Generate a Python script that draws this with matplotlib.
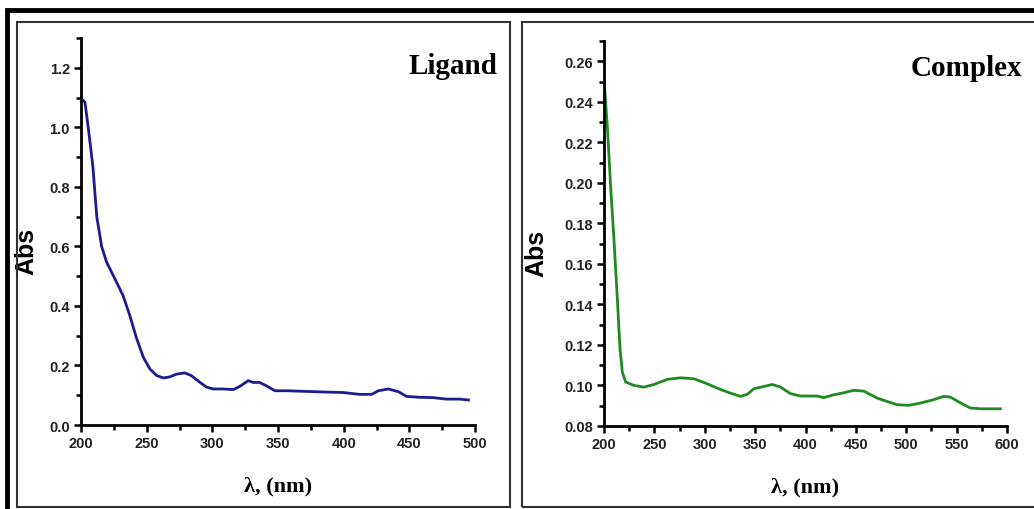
import numpy as np
import matplotlib
matplotlib.use("Agg")
import matplotlib.pyplot as plt
from matplotlib.patches import Rectangle
from matplotlib.ticker import MultipleLocator

# Ligand spectrum
lig_wl = [200, 203, 205.6, 209, 212, 215.7, 219.5, 225.9, 232, 237, 242.4, 247.5,
          252.5, 257.6, 262.7, 267.8, 272.8, 279, 284, 290.6, 295.7, 300.8, 308,
          316, 321, 327.4, 331, 336, 341, 347.7, 356.6, 377, 399.7, 412, 421.3,
          426.4, 434, 441.6, 448, 458, 468, 478, 488, 495]
lig_abs = [1.096, 1.085, 0.996, 0.87, 0.70, 0.60, 0.547, 0.49, 0.435, 0.37, 0.29,
           0.227, 0.188, 0.166, 0.158, 0.162, 0.171, 0.175, 0.166, 0.143, 0.127,
           0.121, 0.121, 0.119, 0.13, 0.149, 0.143, 0.143, 0.132, 0.115, 0.115,
           0.112, 0.109, 0.103, 0.103, 0.115, 0.121, 0.112, 0.096, 0.093, 0.092,
           0.087, 0.087, 0.084]

# Complex spectrum
cpx_wl = [200, 203.3, 206.6, 209.9, 213.2, 215.9, 218.2, 221.5, 229.8, 239.7,
          249.6, 262.8, 276, 289.3, 302.5, 315.7, 325.6, 335.5, 342, 348.8, 358.7,
          367, 375.2, 385, 395, 411.6, 418, 428, 438, 447.9, 457.9, 471, 481, 491,
          502.5, 514, 527.3, 537, 543.6, 553.5, 563.5, 573.4, 593.4]
cpx_abs = [0.251, 0.228, 0.198, 0.172, 0.143, 0.118, 0.1066, 0.1017, 0.100, 0.0992,
           0.1005, 0.103, 0.1038, 0.1033, 0.1008, 0.098, 0.0962, 0.0946, 0.0956,
           0.0984, 0.0995, 0.1005, 0.0992, 0.096, 0.0948, 0.0948, 0.094, 0.0954,
           0.0964, 0.0976, 0.0972, 0.0938, 0.0921, 0.0905, 0.0902, 0.0913, 0.093,
           0.0946, 0.0943, 0.0915, 0.0889, 0.0885, 0.0885]

W, H = 1034, 510
fig = plt.figure(figsize=(W/100, H/100), dpi=100)

def fr(x0, y0, x1, y1):
    # pixel box (top-left origin) -> figure fraction rect
    return [x0/W, 1 - y1/H, (x1-x0)/W, (y1-y0)/H]

# outer thick frame and the two panel boxes
fig.patches.append(Rectangle((7/W, -0.1), 1.2, 1 - 11/H + 0.1, transform=fig.transFigure,
                             fill=False, lw=3.5, ec='black'))
fig.patches.append(Rectangle((17/W, 2/H), (510-17)/W, (508-23)/H, transform=fig.transFigure,
                             fill=False, lw=1.5, ec='#333333'))
fig.patches.append(Rectangle((522/W, 2/H), 0.6, (508-23)/H, transform=fig.transFigure,
                             fill=False, lw=1.5, ec='#333333'))

ax1 = fig.add_axes(fr(81, 39, 475, 426))
ax2 = fig.add_axes(fr(604, 42, 1007, 427))

ax1.plot(lig_wl, lig_abs, color='#1c1c8f', lw=2)
ax2.plot(cpx_wl, cpx_abs, color='#1f8a1f', lw=2)

ax1.set_xlim(200, 500)
ax1.set_ylim(0, 1.3)
ax1.xaxis.set_major_locator(MultipleLocator(50))
ax1.xaxis.set_minor_locator(MultipleLocator(25))
ax1.set_yticks(np.arange(0, 1.21, 0.2))
ax1.set_yticklabels(['%.1f' % v for v in np.arange(0, 1.21, 0.2)])
ax1.yaxis.set_minor_locator(MultipleLocator(0.1))

ax2.set_xlim(200, 600)
ax2.set_ylim(0.08, 0.27)
ax2.xaxis.set_major_locator(MultipleLocator(50))
ax2.xaxis.set_minor_locator(MultipleLocator(25))
ax2.set_yticks(np.arange(0.08, 0.261, 0.02))
ax2.set_yticklabels(['%.2f' % v for v in np.arange(0.08, 0.261, 0.02)])
ax2.yaxis.set_minor_locator(MultipleLocator(0.01))

for ax in (ax1, ax2):
    ax.spines['top'].set_visible(False)
    ax.spines['right'].set_visible(False)
    ax.spines['left'].set_linewidth(2)
    ax.spines['bottom'].set_linewidth(2)
    ax.tick_params(which='major', length=5, width=1.8, direction='out', pad=3)
    ax.tick_params(which='minor', length=3.5, width=1.8, direction='out')
    for lab in ax.get_xticklabels() + ax.get_yticklabels():
        lab.set_fontfamily('Liberation Sans')
        lab.set_fontweight('bold')
        lab.set_fontsize(10.5)
        lab.set_color('#222222')
    ax.set_ylabel('Abs', fontsize=18, fontweight='bold', family='Liberation Sans')
    ax.set_xlabel('λ, (nm)', fontsize=16, fontweight='bold', family='Liberation Serif', labelpad=18)

ax1.yaxis.set_label_coords(-0.109, 0.45)
ax2.yaxis.set_label_coords(-0.139, 0.452)

ax1.text(1.056, 0.93, 'Ligand', transform=ax1.transAxes, ha='right', va='center',
         fontsize=21, fontweight='bold', family='Liberation Serif')
ax2.text(1.037, 0.93, 'Complex', transform=ax2.transAxes, ha='right', va='center',
         fontsize=21, fontweight='bold', family='Liberation Serif')

fig.savefig('out.png', dpi=100)
